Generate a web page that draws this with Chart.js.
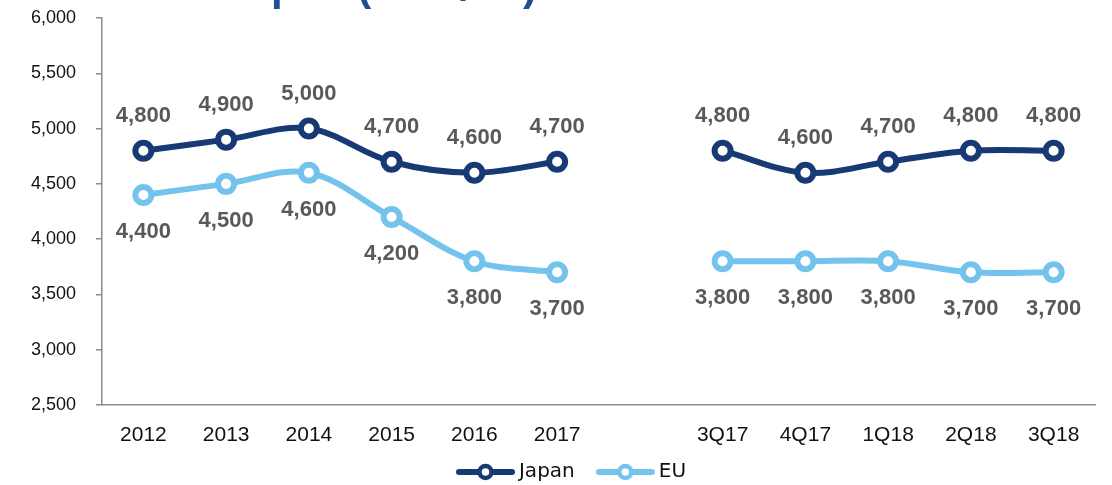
<!DOCTYPE html>
<html>
<head>
<meta charset="utf-8">
<script src="https://cdn.jsdelivr.net/npm/chart.js@4/dist/chart.umd.min.js"></script>
<style>
html,body{margin:0;padding:0;background:#fff;}
#wrap{position:relative;width:1112px;height:485px;}
</style>
</head>
<body>
<div id="wrap"><canvas id="chart" width="1112" height="485"></canvas></div>
<script>
// categories (blank slot separates yearly from quarterly figures)
const periods = ["2012","2013","2014","2015","2016","2017","","3Q17","4Q17","1Q18","2Q18","3Q18"]
const japan = [4800,4900,5000,4700,4600,4700,null,4800,4600,4700,4800,4800]
const eu = [4400,4500,4600,4200,3800,3700,null,3800,3800,3800,3700,3700]
const seriesNames = ["Japan","EU"]
const yTicks = {min:2500,max:6000,step:500}
const titleText = "Steel Price: EU vs Japan (USD/mt)"

const navy = "#173a74"
const sky = "#74c3ed"
const labelGrey = "#595959"
const font = "'Liberation Sans', Arial, sans-serif"
const legendFont = "'DejaVu Sans', sans-serif"

// line + ring swatch for the legend; blank strip on the left widens the gap between items
function swatch(color){
let c = document.createElement("canvas")
c.width = 80
c.height = 20
let g = c.getContext("2d")
g.strokeStyle = color
g.lineWidth = 6
g.lineCap = "round"
g.beginPath()
g.moveTo(24,10)
g.lineTo(77,10)
g.stroke()
g.fillStyle = "#fff"
g.lineWidth = 4.5
g.beginPath()
g.arc(50.5,10,6,0,Math.PI*2)
g.fill()
g.stroke()
return c
}

// value labels: Japan above its points, EU below
const valueLabels = {
id:"valueLabels",
afterDatasetsDraw(chart){
let ctx = chart.ctx
ctx.save()
ctx.font = "bold 22px " + font
ctx.fillStyle = labelGrey
ctx.textAlign = "center"
ctx.textBaseline = "middle"
chart.data.datasets.forEach(function(ds,i){
let meta = chart.getDatasetMeta(i)
let off = i === 0 ? -35 : 37
meta.data.forEach(function(pt,j){
let v = ds.data[j]
if(v === null) return
ctx.fillText(v.toLocaleString("en-US"), pt.x, pt.y + off)
})
})
ctx.restore()
}
}

// heading, cut off by the top edge of the page
const heading = {
id:"heading",
afterDraw(chart){
let ctx = chart.ctx
ctx.save()
ctx.font = "bold 42px " + font
ctx.fillStyle = "#1f4f8e"
ctx.textAlign = "left"
ctx.textBaseline = "alphabetic"
let pre = ctx.measureText(titleText.slice(0, titleText.indexOf("pan"))).width
ctx.fillText(titleText, 271 - pre, 0)
ctx.restore()
}
}

// nudge the legend right and down inside its box
const legendShift = {
id:"legendShift",
afterLayout(chart){
let lg = chart.legend
lg.left += 32
lg.top += 7
lg.bottom += 7
}
}

function draw(){

const ctx = document.getElementById("chart")

new Chart(ctx,{
type:"line",
data:{
labels:periods,
datasets:[{
label:seriesNames[0],
data:japan,
borderColor:navy,
borderWidth:6,
pointRadius:8,
pointHoverRadius:8,
pointBorderWidth:6,
pointBackgroundColor:"#fff",
pointBorderColor:navy,
tension:0.35,
spanGaps:false
},{
label:seriesNames[1],
data:eu,
borderColor:sky,
borderWidth:6,
pointRadius:8,
pointHoverRadius:8,
pointBorderWidth:6,
pointBackgroundColor:"#fff",
pointBorderColor:sky,
tension:0.35,
spanGaps:false
}]
},
options:{
responsive:false,
animation:false,
layout:{padding:{top:18,right:17,left:0,bottom:0}},
scales:{
x:{
offset:true,
grid:{display:false},
border:{display:true,color:"#8c8c8c",width:1.5},
ticks:{
color:"#111",
padding:10,
maxRotation:0,
autoSkip:false,
font:{family:font,size:21}
},
afterFit(scale){scale.height = 44}
},
y:{
min:yTicks.min,
max:yTicks.max,
grid:{drawOnChartArea:false,drawTicks:true,tickLength:6,color:"#8c8c8c",lineWidth:1.5},
border:{display:true,color:"#8c8c8c",width:1.5},
ticks:{
stepSize:yTicks.step,
color:"#111",
padding:20,
font:{family:font,size:18},
callback:function(v){return v.toLocaleString("en-US")}
},
afterFit(scale){
scale.width = 102
scale.paddingTop = 10
scale.paddingBottom = 10
}
}
},
plugins:{
tooltip:{enabled:false},
legend:{
position:"bottom",
labels:{
usePointStyle:true,
pointStyleWidth:68,
padding:6,
color:"#111",
font:{family:legendFont,size:20},
generateLabels(chart){
let items = Chart.defaults.plugins.legend.labels.generateLabels(chart)
items.forEach(function(it,i){
it.pointStyle = swatch(i === 0 ? navy : sky)
})
return items
}
}
}
}
},
plugins:[valueLabels,heading,legendShift]
})

}

Promise.all([
document.fonts.load("18px 'Liberation Sans'"),
document.fonts.load("bold 22px 'Liberation Sans'"),
document.fonts.load("20px 'DejaVu Sans'")
]).then(draw, draw)
</script>
</body>
</html>
